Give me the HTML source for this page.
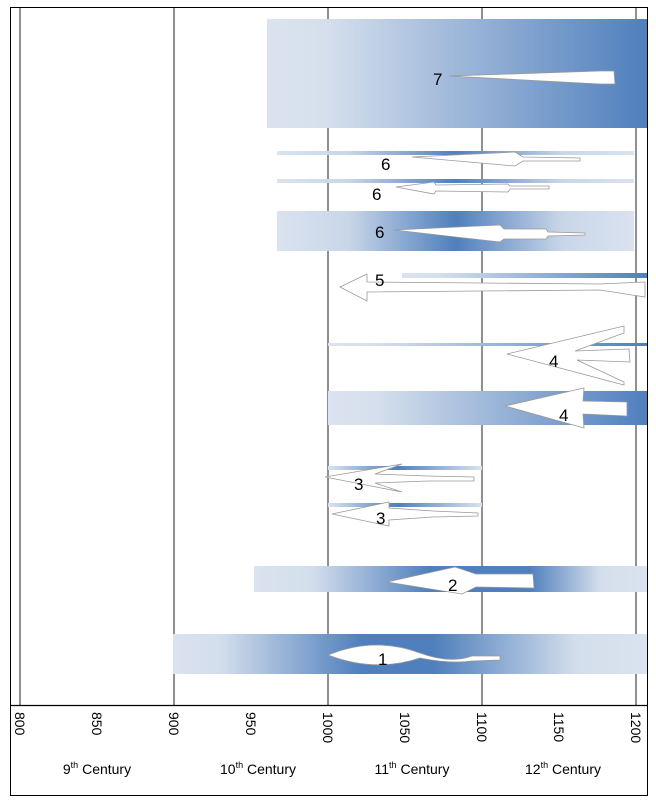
<!DOCTYPE html>
<html><head><meta charset="utf-8"><style>
body{margin:0;background:#fff;}
svg{display:block;font-family:"Liberation Sans",Arial,sans-serif;}
</style></head><body>
<svg width="656" height="804" viewBox="0 0 656 804">
<defs>
<linearGradient id="lr" x1="0" x2="1"><stop offset="0" stop-color="#dae3ef"/><stop offset="0.15" stop-color="#d6e0ed"/><stop offset="1" stop-color="#4f7fbd"/></linearGradient>
<linearGradient id="g6" x1="0" x2="1"><stop offset="0" stop-color="#dae3ef"/><stop offset="0.2" stop-color="#c9d6e8"/><stop offset="0.5" stop-color="#4f7fbd"/><stop offset="0.8" stop-color="#c9d6e8"/><stop offset="1" stop-color="#dae3ef"/></linearGradient>
<linearGradient id="g3" x1="0" x2="1"><stop offset="0" stop-color="#dae3ef"/><stop offset="0.45" stop-color="#4f7fbd"/><stop offset="1" stop-color="#dae3ef"/></linearGradient>
<linearGradient id="g2" x1="0" x2="1"><stop offset="0" stop-color="#dae3ef"/><stop offset="0.15" stop-color="#d3deec"/><stop offset="0.45" stop-color="#4f7fbd"/><stop offset="0.7" stop-color="#4f7fbd"/><stop offset="0.88" stop-color="#d3deec"/><stop offset="1" stop-color="#dae3ef"/></linearGradient>
<linearGradient id="g1" x1="0" x2="1"><stop offset="0" stop-color="#dae3ef"/><stop offset="0.1" stop-color="#d3deec"/><stop offset="0.4" stop-color="#4f7fbd"/><stop offset="0.55" stop-color="#4f7fbd"/><stop offset="0.85" stop-color="#d3deec"/><stop offset="1" stop-color="#dae3ef"/></linearGradient>
</defs>
<rect x="10.5" y="7.5" width="637" height="788" fill="#fff" stroke="#000" stroke-width="1"/>
<g stroke="#555" stroke-width="1.3">
<line x1="20" y1="8" x2="20" y2="705"/><line x1="174" y1="8" x2="174" y2="705"/><line x1="328" y1="8" x2="328" y2="705"/><line x1="482" y1="8" x2="482" y2="705"/><line x1="636" y1="8" x2="636" y2="705"/>
</g>
<line x1="10" y1="705.5" x2="648" y2="705.5" stroke="#000" stroke-width="1.3"/>
<rect x="267" y="19" width="380" height="109" fill="url(#lr)"/>
<rect x="277" y="151" width="357" height="4" fill="url(#g6)"/>
<rect x="277" y="179" width="357" height="4" fill="url(#g6)"/>
<rect x="277" y="211" width="357" height="40" fill="url(#g6)"/>
<rect x="402" y="273" width="245" height="5" fill="url(#lr)"/>
<rect x="328" y="343" width="319" height="3" fill="url(#lr)"/>
<rect x="328" y="391" width="319" height="34" fill="url(#lr)"/>
<rect x="328" y="466" width="154" height="4" fill="url(#g3)"/>
<rect x="328" y="503" width="154" height="4" fill="url(#g3)"/>
<rect x="254" y="566" width="393" height="26" fill="url(#g2)"/>
<rect x="173" y="634" width="474" height="40" fill="url(#g1)"/>
<g fill="#fff" stroke="#999" stroke-width="0.8">
<path d="M449,76 L600,71 L614,71 L615,84 L600,84 Z"/>
<path d="M412,157 L515,152 L523,157 L580,158 L580,161 L523,161 L515,166 Z"/>
<path d="M396,187 L434,182 L436,185 L508,184 L510,186 L549,186 L549,189 L510,189 L508,192 L436,191 L434,194 Z"/>
<path d="M394,230 L500,225 L504,229 L546,229 L548,232 L585,233 L585,235 L548,236 L546,239 L504,239 L500,242 Z"/>
<path d="M340,287 L367,274 L367,282 L600,284 L645,282 L645,297 L600,290 L367,292 L367,301 Z"/>
<path d="M507,354 L624,326 L624,333 L575,351 L629,349 L630,362 L577,360 L624,382 L624,385 Z"/>
<path d="M505,406 L584,388 L583,401 L627,402 L627,416 L583,414 L584,428 Z"/>
<path d="M325,477 L402,464 L375,474 L428,476 L474,477 L474,481 L428,481 L375,483 L402,492 Z"/>
<path d="M332,514 L389,502 L389,508 L433,511 L478,513 L478,516 L433,517 L389,520 L389,526 Z"/>
<path d="M387,582 L455,567 L476,574 L533,574 L534,588 L476,587 L462,594 Z"/>
<path d="M328,655 Q375,636 420,653 Q450,664 472,656 L500,656 L500,660 L472,661 Q450,664 420,658 Q375,673 328,655 Z"/>
</g>
<g font-size="17" fill="#000">
<text x="433" y="85">7</text><text x="381" y="170">6</text><text x="372" y="200">6</text><text x="375" y="238">6</text><text x="375" y="286">5</text><text x="549" y="367">4</text><text x="559" y="421">4</text><text x="354" y="490">3</text><text x="376" y="524">3</text><text x="448" y="591">2</text><text x="378" y="665">1</text>
</g>
<g font-size="14" fill="#000">
<text transform="translate(15,712) rotate(90)">800</text>
<text transform="translate(92,712) rotate(90)">850</text>
<text transform="translate(169,712) rotate(90)">900</text>
<text transform="translate(246,712) rotate(90)">950</text>
<text transform="translate(323,712) rotate(90)">1000</text>
<text transform="translate(400,712) rotate(90)">1050</text>
<text transform="translate(477,712) rotate(90)">1100</text>
<text transform="translate(554,712) rotate(90)">1150</text>
<text transform="translate(631,712) rotate(90)">1200</text>
</g>
<g font-size="14" fill="#000" text-anchor="middle">
<text x="97" y="774">9<tspan font-size="9" dy="-6">th</tspan><tspan dy="6"> Century</tspan></text>
<text x="258" y="774">10<tspan font-size="9" dy="-6">th</tspan><tspan dy="6"> Century</tspan></text>
<text x="412" y="774">11<tspan font-size="9" dy="-6">th</tspan><tspan dy="6"> Century</tspan></text>
<text x="563" y="774">12<tspan font-size="9" dy="-6">th</tspan><tspan dy="6"> Century</tspan></text>
</g>
</svg>
</body></html>
